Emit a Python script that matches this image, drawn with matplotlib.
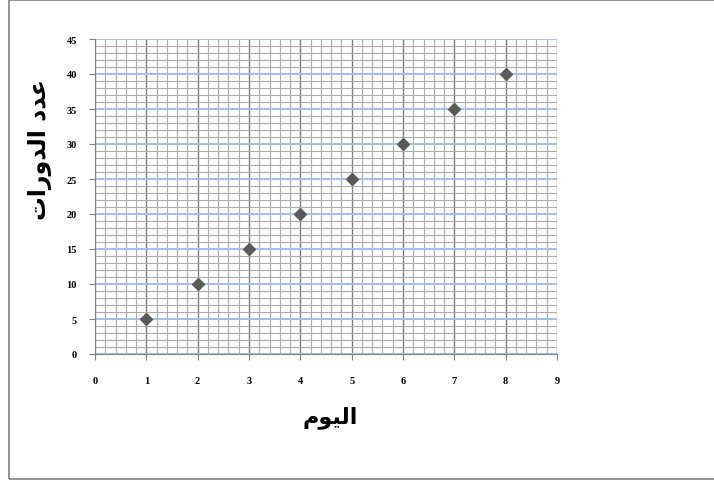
import matplotlib.pyplot as plt
from matplotlib.ticker import MultipleLocator
from matplotlib.patches import Rectangle

# data
days = [1, 2, 3, 4, 5, 6, 7, 8]
cycles = [5, 10, 15, 20, 25, 30, 35, 40]

# Arabic text in presentation forms, visual order (no shaping in matplotlib)
xlabel = "\uFEE1\uFEEE\uFEF4\uFEDF\uFE8D"  # اليوم
ylabel = "\uFE95\uFE8D\uFEAD\uFEED\uFEAA\uFEDF\uFE8D \uFEA9\uFEAA\uFECB"  # عدد الدورات

fig = plt.figure(figsize=(7.14, 4.81), dpi=100)
ax = fig.add_axes([95 / 714, 1 - 355 / 481, (557 - 95) / 714, (355 - 40) / 481])

ax.set_xlim(0, 9)
ax.set_ylim(0, 45)
ax.xaxis.set_major_locator(MultipleLocator(1))
ax.xaxis.set_minor_locator(MultipleLocator(0.2))
ax.yaxis.set_major_locator(MultipleLocator(5))
ax.yaxis.set_minor_locator(MultipleLocator(1))

ax.grid(which="minor", axis="both", color="#ABABAB", lw=0.8)
ax.grid(which="major", axis="x", color="#7F7F7F", lw=1.0)
ax.grid(which="major", axis="y", color="#A3BEE8", lw=1.4)
ax.set_axisbelow(True)

ax.plot(days, cycles, linestyle="none", marker="D", markersize=6.5,
        color="#5A5A5A", zorder=3)

for s in ["top", "right"]:
    ax.spines[s].set_visible(False)
ax.spines["left"].set_color("#808080")
ax.spines["bottom"].set_color("#808080")
ax.tick_params(which="major", direction="out", length=4, color="#808080")
ax.tick_params(which="minor", length=0)
ax.tick_params(axis="x", pad=12)
ax.tick_params(axis="y", pad=9)
for lab in ax.get_xticklabels() + ax.get_yticklabels():
    lab.set_fontfamily("Liberation Serif")
    lab.set_fontweight("bold")
    lab.set_fontsize(7.5)

fig.text(330 / 714, 1 - 418 / 481, xlabel, family="DejaVu Sans",
         fontweight="bold", fontsize=16, ha="center", va="center")
fig.text(40 / 714, 1 - 150 / 481, ylabel, family="DejaVu Sans",
         fontweight="bold", fontsize=17, ha="center", va="center",
         rotation=90)

# chart area border
fig.patches.append(Rectangle((8.5 / 714, 1.5 / 481), 1.2, 1 - 2.5 / 481,
                             transform=fig.transFigure, fill=False,
                             edgecolor="#808080", lw=1.2))

fig.savefig("out.png", dpi=100)
